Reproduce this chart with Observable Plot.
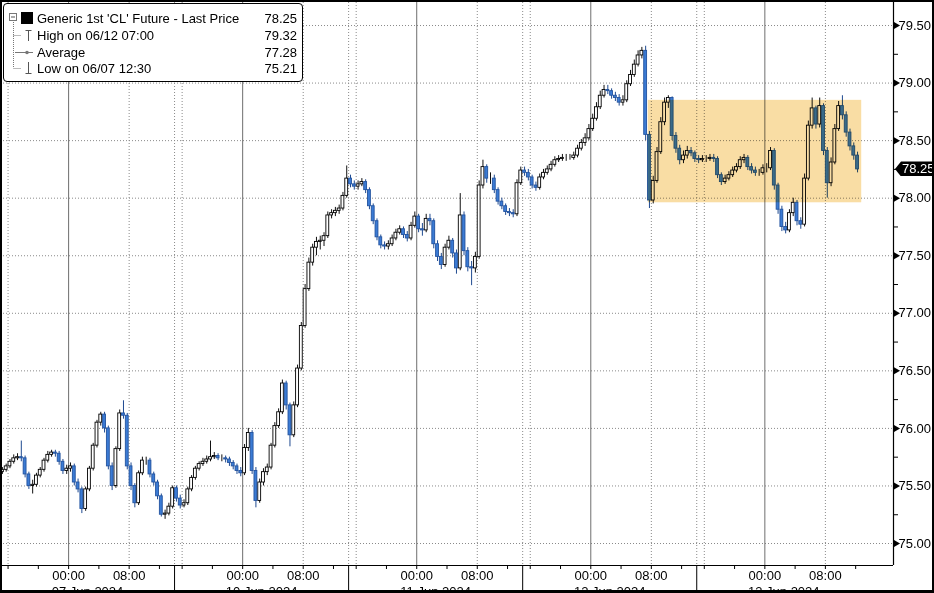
<!DOCTYPE html>
<html><head><meta charset="utf-8">
<script src="https://cdn.jsdelivr.net/npm/d3@7"></script>
<script src="https://cdn.jsdelivr.net/npm/@observablehq/plot@0.6"></script>
<style>
html,body{margin:0;padding:0;background:#fff;}
#wrap{position:relative;width:934px;height:593px;overflow:hidden;font-family:"Liberation Sans",Arial,sans-serif;}
#chart{position:absolute;left:0;top:0;}
#border{position:absolute;left:0;top:0;width:934px;height:593px;box-sizing:border-box;border:2px solid #000;border-bottom-width:3px;pointer-events:none;}
#legend{position:absolute;left:3px;top:3px;width:300px;height:79px;box-sizing:border-box;border:1px solid #000;border-radius:4px;background:#fff;font-size:13px;color:#000;}
#legend .row{position:absolute;left:0;width:298px;height:17px;line-height:17px;white-space:nowrap;}
#legend .lbl{position:absolute;left:33px;}
#legend .val{position:absolute;right:5px;}
#legend svg{position:absolute;left:0;top:0;}
#tag{position:absolute;height:15px;line-height:15px;background:#000;color:#fff;font-size:13px;box-sizing:border-box;padding-left:7px;
  clip-path:polygon(0 50%, 6px 0, 100% 0, 100% 100%, 6px 100%);}
</style></head>
<body>
<div id="wrap">
  <div id="chart"></div>
  <div id="legend">
    <svg width="34" height="77">
      <line x1="9.5" y1="16" x2="9.5" y2="64" stroke="#777" stroke-dasharray="1,1"/>
      <line x1="9.5" y1="31.5" x2="17" y2="31.5" stroke="#777" stroke-dasharray="1,1"/>
      <line x1="9.5" y1="64.5" x2="17" y2="64.5" stroke="#777" stroke-dasharray="1,1"/>
      <rect x="5.5" y="9.5" width="7" height="7" fill="#fff" stroke="#777"/>
      <line x1="7" y1="13" x2="11" y2="13" stroke="#555"/>
      <rect x="17" y="8" width="12" height="12" fill="#000"/>
      <line x1="21.5" y1="26.5" x2="27.5" y2="26.5" stroke="#555"/>
      <line x1="24.5" y1="26.5" x2="24.5" y2="37" stroke="#555"/>
      <line x1="11" y1="48.5" x2="29" y2="48.5" stroke="#777"/>
      <circle cx="23" cy="48.5" r="1.8" fill="#777"/>
      <line x1="24.5" y1="58" x2="24.5" y2="69.5" stroke="#555"/>
      <line x1="21.5" y1="69.5" x2="27.5" y2="69.5" stroke="#555"/>
    </svg>
    <div id="legendRows"></div>
  </div>
  <div id="tag"></div>
  <div id="border"></div>
</div>
<script>
// ---- Data (30-minute candles) ----
const sessionDates = ["07 Jun 2024", "10 Jun 2024", "11 Jun 2024", "12 Jun 2024", "13 Jun 2024"];
const firstOpen = 75.62;

const close07 = [75.64,75.67,75.71,75.74,75.75,75.74,75.60,75.50,75.51,75.59,75.64,75.72,75.77,75.79,75.78,75.71,75.63,75.65,75.67,75.53,75.47,75.30,75.47,75.65,75.85,76.05,76.12,76.00,75.67,75.50,75.82,76.13,76.11,75.67,75.50,75.35,75.61,75.72,75.72,75.60,75.53,75.41,75.25,75.26,75.32,75.48];
const high07  = [75.66,75.69,75.73,75.77,75.78,75.89,75.76,75.62,75.55,75.61,75.66,75.74,75.80,75.81,75.81,75.80,75.73,75.68,75.70,75.69,75.56,75.49,75.49,75.67,75.87,76.07,76.14,76.14,76.02,75.70,75.84,76.16,76.24,76.13,75.70,75.52,75.63,75.75,75.75,75.74,75.62,75.55,75.43,75.29,75.35,75.50];
const low07   = [75.60,75.62,75.65,75.69,75.72,75.71,75.57,75.47,75.43,75.49,75.57,75.62,75.70,75.75,75.75,75.68,75.60,75.60,75.62,75.50,75.44,75.26,75.28,75.45,75.63,75.83,76.02,75.96,75.64,75.46,75.48,75.80,76.08,75.64,75.46,75.31,75.33,75.59,75.68,75.57,75.50,75.38,75.23,75.21,75.24,75.30];

const close10 = [75.39,75.33,75.35,75.47,75.57,75.65,75.69,75.71,75.73,75.75,75.76,75.74,75.74,75.73,75.70,75.67,75.63,75.61,75.83,75.96,75.63,75.37,75.53,75.62,75.66,75.85,76.02,76.14,76.39,76.20,75.94,76.20,76.52,76.89,77.21,77.44,77.57,77.62,77.63,77.67,77.85,77.87,77.89,77.91,78.02,78.17];
const high10  = [75.50,75.42,75.38,75.49,75.59,75.67,75.71,75.74,75.76,75.89,75.79,75.78,75.77,75.76,75.75,75.72,75.69,75.66,75.86,76.00,75.98,75.66,75.56,75.65,75.69,75.87,76.05,76.17,76.42,76.41,76.22,76.23,76.55,76.92,77.25,77.48,77.60,77.66,77.67,77.70,77.88,77.90,77.92,77.94,78.05,78.28];
const low10   = [75.36,75.30,75.31,75.33,75.45,75.55,75.63,75.67,75.69,75.71,75.73,75.72,75.71,75.70,75.67,75.64,75.60,75.58,75.59,75.80,75.60,75.31,75.35,75.50,75.59,75.64,75.83,76.00,76.12,76.16,75.84,75.92,76.18,76.50,76.87,77.19,77.41,77.50,77.55,77.58,77.65,77.82,77.84,77.86,77.89,78.00];

const close11 = [78.12,78.10,78.12,78.14,78.07,77.93,77.80,77.66,77.59,77.58,77.60,77.65,77.70,77.73,77.68,77.65,77.76,77.84,77.73,77.72,77.82,77.80,77.60,77.49,77.42,77.57,77.63,77.52,77.39,77.85,77.54,77.40,77.39,77.49,78.11,78.27,78.17,78.17,78.07,77.97,77.93,77.88,77.87,77.86,78.13,78.24];
const high11  = [78.20,78.15,78.15,78.17,78.16,78.09,77.95,77.82,77.68,77.62,77.63,77.68,77.73,77.76,77.75,77.71,77.79,77.88,77.86,77.78,77.86,77.86,77.82,77.63,77.52,77.60,77.67,77.65,77.55,78.04,77.88,77.57,77.45,77.53,78.15,78.33,78.29,78.22,78.20,78.09,78.00,77.95,77.91,77.90,78.16,78.27];
const low11   = [78.09,78.07,78.07,78.10,78.04,77.90,77.77,77.63,77.56,77.55,77.55,77.58,77.63,77.68,77.65,77.62,77.63,77.74,77.70,77.67,77.70,77.76,77.56,77.45,77.38,77.40,77.55,77.48,77.34,77.37,77.50,77.36,77.24,77.35,77.47,78.08,78.13,78.12,78.04,77.94,77.90,77.85,77.84,77.83,77.84,78.11];

const close12 = [78.22,78.18,78.11,78.09,78.18,78.22,78.25,78.29,78.33,78.34,78.35,78.35,78.35,78.37,78.43,78.48,78.52,78.60,78.69,78.79,78.89,78.94,78.93,78.89,78.87,78.83,78.85,78.99,79.07,79.16,79.24,79.28,78.55,77.98,78.15,78.40,78.66,78.83,78.87,78.54,78.43,78.33,78.37,78.41,78.39,78.34];
const high12  = [78.27,78.25,78.20,78.14,78.21,78.25,78.28,78.32,78.36,78.37,78.38,78.38,78.38,78.40,78.46,78.51,78.56,78.64,78.73,78.83,78.93,78.98,78.98,78.95,78.92,78.90,78.89,79.02,79.11,79.20,79.28,79.31,79.32,78.58,78.19,78.44,78.70,78.87,78.89,78.88,78.57,78.46,78.41,78.45,78.44,78.41];
const low12   = [78.19,78.15,78.08,78.06,78.07,78.16,78.20,78.23,78.27,78.31,78.32,78.32,78.33,78.33,78.35,78.41,78.45,78.50,78.58,78.67,78.77,78.87,78.90,78.86,78.84,78.80,78.80,78.83,78.97,79.05,79.14,79.21,78.50,77.91,77.95,78.13,78.38,78.63,78.78,78.50,78.39,78.29,78.30,78.34,78.36,78.31];

const close13 = [78.33,78.34,78.34,78.35,78.34,78.20,78.14,78.17,78.20,78.24,78.27,78.33,78.35,78.27,78.24,78.22,78.22,78.26,78.26,78.41,78.11,77.90,77.75,77.72,77.87,77.96,77.80,77.77,78.17,78.63,78.78,78.64,78.80,78.41,78.13,78.31,78.60,78.80,78.72,78.57,78.45,78.37,78.25];
const high13  = [78.37,78.37,78.37,78.38,78.38,78.36,78.22,78.20,78.23,78.27,78.30,78.36,78.38,78.37,78.30,78.27,78.25,78.29,78.30,78.44,78.43,78.13,77.93,77.79,77.90,78.00,77.98,77.83,78.21,78.67,78.87,78.80,78.87,78.82,78.44,78.35,78.64,78.84,78.89,78.75,78.60,78.48,78.40];
const low13   = [78.30,78.31,78.31,78.32,78.31,78.17,78.11,78.12,78.15,78.18,78.22,78.25,78.30,78.24,78.21,78.19,78.19,78.20,78.22,78.24,78.07,77.86,77.71,77.69,77.70,77.84,77.76,77.73,77.75,78.15,78.60,78.60,78.61,78.37,78.00,78.10,78.29,78.58,78.68,78.53,78.41,78.33,78.22];

const yMajorTicks = [75.0, 75.5, 76.0, 76.5, 77.0, 77.5, 78.0, 78.5, 79.0, 79.5];
const yMinorTicks = [75.25, 75.75, 76.25, 76.75, 77.25, 77.75, 78.25, 78.75, 79.25];
const lastPrice = 78.25;
const highlightX = [85.6, 113.8];   // hours on the session axis (12 Jun ~07:40 to 13 Jun ~12:45)
const highlightY = [77.96, 78.85];

const legendLabels = ["Generic 1st 'CL' Future - Last Price", "High on 06/12 07:00", "Average", "Low on 06/07 12:30"];
const legendValues = ["78.25", "79.32", "77.28", "75.21"];

// ---- Session axis: each session runs 15:00 -> 14:00 (23 h) ----
const SESSION = 23, START_HOUR = 15;
const closes = [close07, close10, close11, close12, close13];
const highs = [high07, high10, high11, high12, high13];
const lows = [low07, low10, low11, low12, low13];

const candles = [];
let prev = firstOpen;
closes.forEach((arr, s) => arr.forEach((c, k) => {
  candles.push({t: s * SESSION + k * 0.5, open: prev, close: c, high: highs[s][k], low: lows[s][k]});
  prev = c;
}));
const ups = candles.filter(d => d.close >= d.open);
const downs = candles.filter(d => d.close < d.open);

const sIdx = d3.range(sessionDates.length);
const midnight = sIdx.map(s => s * SESSION + 9);
const eight = sIdx.map(s => s * SESSION + 17);
const sixteen = sIdx.map(s => s * SESSION + 1);
const boundaries = sIdx.slice(1).map(s => s * SESSION);
const fourHour = sIdx.flatMap(s => [1, 5, 9, 13, 17, 21].map(h => s * SESSION + h));
const centers = sIdx.map(s => s * SESSION + SESSION / 2);
const hourLabel = t => String((START_HOUR + Math.round(t % SESSION)) % 24).padStart(2, "0") + ":00";

const xDomain = [0, 118];
const yDomain = [74.809, 79.70];

const chart = Plot.plot({
  width: 934, height: 593,
  marginLeft: 0, marginRight: 41, marginTop: 2, marginBottom: 28,
  x: {type: "linear", domain: xDomain, nice: false},
  y: {domain: yDomain, nice: false},
  style: {fontFamily: "Liberation Sans, Arial, sans-serif", fontSize: "13px", color: "#000", background: "transparent"},
  marks: [
    Plot.ruleY(yMajorTicks, {stroke: "#8a8a8a", strokeDasharray: "1,2"}),
    Plot.ruleX(midnight, {stroke: "#6e6e6e"}),
    Plot.ruleX([...eight, ...sixteen, ...boundaries], {stroke: "#8a8a8a", strokeDasharray: "1,2"}),
    Plot.ruleX(ups, {x: d => d.t + 0.25, y1: "low", y2: "high", stroke: "#111", strokeWidth: 1}),
    Plot.ruleX(downs, {x: d => d.t + 0.25, y1: "low", y2: "high", stroke: "#1f4a90", strokeWidth: 1}),
    Plot.rect(ups, {x1: d => d.t + 0.06, x2: d => d.t + 0.44, y1: "open", y2: "close", fill: "#fff", stroke: "#000", strokeWidth: 0.9}),
    Plot.rect(downs, {x1: d => d.t + 0.06, x2: d => d.t + 0.44, y1: "open", y2: "close", fill: "#3b7bd4", stroke: "#23539f", strokeWidth: 0.9}),
    Plot.rect([0], {x1: highlightX[0], x2: highlightX[1], y1: highlightY[0], y2: highlightY[1], fill: "#f9dda4", mixBlendMode: "multiply"}),
    Plot.ruleX([xDomain[1]], {stroke: "#000", strokeWidth: 1.2}),
    Plot.ruleY([yDomain[0]], {stroke: "#000", strokeWidth: 1.2}),
    Plot.axisY(yMajorTicks, {anchor: "right", tickSize: 0, tickPadding: 5, tickFormat: d3.format(".2f"), fontSize: 13}),
    Plot.axisY(yMinorTicks, {anchor: "right", tickSize: 4, text: null, stroke: "#000"}),
    Plot.dot(yMajorTicks, {x: xDomain[1], y: d => d, symbol: "triangle", rotate: 90, r: 2.6, fill: "#000", dx: 2.5}),
    Plot.axisX(fourHour, {anchor: "bottom", tickSize: 4, text: null, stroke: "#000"}),
    Plot.axisX(boundaries, {anchor: "bottom", tickSize: 30, text: null, stroke: "#000"}),
    Plot.axisX([...midnight, ...eight], {anchor: "bottom", tickSize: 0, tickPadding: 5, tickFormat: hourLabel, fontSize: 13}),
    Plot.axisX(centers, {anchor: "bottom", tickSize: 0, tickPadding: 21, tickFormat: t => sessionDates[Math.floor(t / SESSION)], fontSize: 13})
  ]
});
document.getElementById("chart").appendChild(chart);

// last-price tag on the right axis, positioned with the plot's own scales
const yPix = chart.scale("y").apply(lastPrice);
const xPix = chart.scale("x").apply(xDomain[1]);
const tagEl = document.getElementById("tag");
tagEl.style.left = (xPix + 2) + "px";
tagEl.style.top = (yPix - 7.5) + "px";
tagEl.style.width = (934 - xPix - 2) + "px";
tagEl.textContent = lastPrice.toFixed(2);

// legend rows
const rowsEl = document.getElementById("legendRows");
const rowTops = [5.5, 22.5, 39.5, 55.5];
legendLabels.forEach((lab, i) => {
  const r = document.createElement("div");
  r.className = "row"; r.style.top = rowTops[i] + "px";
  r.innerHTML = `<span class="lbl"></span><span class="val"></span>`;
  r.querySelector(".lbl").textContent = lab;
  r.querySelector(".val").textContent = legendValues[i];
  rowsEl.appendChild(r);
});
</script>
</body></html>
